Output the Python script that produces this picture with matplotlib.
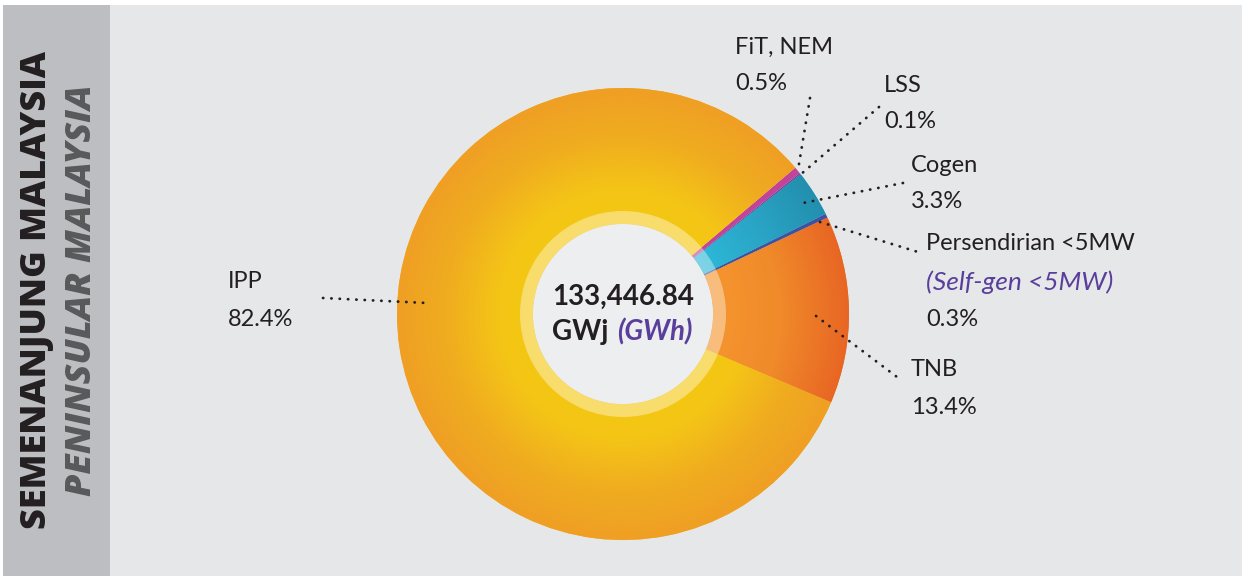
import numpy as np
import matplotlib
matplotlib.use("Agg")
import matplotlib.pyplot as plt
from matplotlib.colors import LinearSegmentedColormap
from matplotlib.patches import Rectangle, Circle, Wedge

# ---------------- data ----------------
categories = ["TNB", "Persendirian <5MW", "Cogen", "LSS", "FiT, NEM", "IPP"]
shares = [13.4, 0.3, 3.3, 0.1, 0.5, 82.4]
pct_labels = ["13.4%", "0.3%", "3.3%", "0.1%", "0.5%", "82.4%"]
total_value = "133,446.84"
unit_ms = "GWj"
unit_en = "(GWh)"
side_title_ms = "SEMENANJUNG MALAYSIA"
side_title_en = "PENINSULAR MALAYSIA"
selfgen_en = "(Self-gen <5MW)"

# ---------------- style ----------------
W, H = 1242, 576
FONT = "Lato"
TFONT = "Open Sans"
DARK = "#231F20"
PURPLE = "#5A3E9B"
BG = "#E6E7E8"
BAND = "#BCBEC1"

fig = plt.figure(figsize=(W / 100, H / 100), dpi=100, facecolor="white")
ax = fig.add_axes([0, 0, 1, 1])
ax.set_xlim(0, W)
ax.set_ylim(0, H)
ax.axis("off")

def Y(y):  # convert from top-down pixel coordinates
    return H - y

ax.add_patch(Rectangle((3, 0), W - 3, H - 5, facecolor=BG, edgecolor="none", zorder=0))
ax.add_patch(Rectangle((3, 0), 107, H - 5, facecolor=BAND, edgecolor="none", zorder=0.5))

# ---------------- donut ----------------
cx, cy = 623, Y(314)
R_out, R_in = 226, 90
seg_colors = ["#EE7A26", "#3F51A3", "#2AA3C4", "#6A3D96", "#C2449A", "#F2B31D"]
wedges, _ = ax.pie(shares, colors=seg_colors, startangle=-23, counterclock=True,
                   center=(cx, cy), radius=R_out, frame=True,
                   wedgeprops=dict(width=R_out - R_in, linewidth=0, antialiased=True))
for w in wedges:
    w.set_zorder(2)

def radial_fill(wedge, stops):
    n = 700
    xs = np.linspace(cx - R_out, cx + R_out, n)
    ys = np.linspace(cy - R_out, cy + R_out, n)
    X, Yg = np.meshgrid(xs, ys)
    r = np.hypot(X - cx, Yg - cy)
    t = np.clip((r - R_in) / (R_out - R_in), 0, 1)
    cmap = LinearSegmentedColormap.from_list("g", stops)
    im = ax.imshow(t, cmap=cmap, vmin=0, vmax=1, origin="lower",
                   extent=(cx - R_out, cx + R_out, cy - R_out, cy + R_out),
                   interpolation="bilinear", zorder=2.1)
    im.set_clip_path(wedge)

radial_fill(wedges[0], [(0, "#F6962F"), (0.5, "#F08A2A"), (1, "#E86624")])
radial_fill(wedges[2], [(0, "#2DBAD9"), (0.5, "#2AA5C6"), (1, "#238FAE")])
radial_fill(wedges[5], [(0, "#F5C813"), (0.25, "#F4C516"), (0.65, "#F0AC20"), (1, "#EF9F24")])

# light inner ring & centre
ax.add_patch(Wedge((cx, cy), R_in + 13, 0, 360, width=13, facecolor="white",
                   alpha=0.38, edgecolor="none", zorder=3))
ax.add_patch(Circle((cx, cy), R_in, facecolor="#ECEEF0", edgecolor="none", zorder=3.5))

ax.set_xlim(0, W)
ax.set_ylim(0, H)
ax.set_aspect("equal")
ax.axis("off")

# ---------------- centre text ----------------
CFS = 20
ax.text(cx, Y(297), total_value, ha="center", va="center", fontsize=CFS,
        fontweight="bold", color=DARK, family=FONT, zorder=5)
ax.text(552, Y(332), unit_ms, ha="left", va="center", fontsize=CFS,
        fontweight="bold", color=DARK, family=FONT, zorder=5)
ax.text(617, Y(332), unit_en, ha="left", va="center", fontsize=CFS,
        fontweight="bold", style="italic", color=PURPLE, family=FONT, zorder=5)

# ---------------- side titles ----------------
ax.text(37, Y(290), side_title_ms, rotation=90, ha="center", va="center",
        fontsize=26, fontweight="heavy", color=DARK, family=TFONT)
ax.text(82, Y(290), side_title_en, rotation=90, ha="center", va="center",
        fontsize=26, fontweight="heavy", style="italic", color="#58595B", family=TFONT)

# ---------------- labels ----------------
LFS = 17
def lab(x, y, s, color=DARK, style="normal", fs=LFS):
    ax.text(x, Y(y), s, ha="left", va="center", fontsize=fs, color=color,
            family=FONT, style=style, zorder=5)

lab(735, 47, categories[4]); lab(735, 84, pct_labels[4])
lab(884, 85, categories[3]); lab(884, 122, pct_labels[3])
lab(911, 165, categories[2]); lab(911, 202, pct_labels[2])
lab(926, 244, categories[1]); lab(926, 282, selfgen_en, color=PURPLE, style="italic", fs=19)
lab(926, 319, pct_labels[1])
lab(911, 370, categories[0]); lab(911, 407, pct_labels[0])
lab(228, 282, categories[5]); lab(228, 320, pct_labels[5])

# ---------------- leader lines ----------------
leaders = [((810, 98), (798, 170)),
           ((879, 107), (800, 175)),
           ((903, 183), (803, 203)),
           ((820, 222), (918, 252)),
           ((816, 316), (897, 377)),
           ((323, 298), (427, 303))]
for (x0, y0), (x1, y1) in leaders:
    ax.plot([x0, x1], [Y(y0), Y(y1)], color=DARK, lw=2.0,
            linestyle=(0, (0.1, 2.9)), dash_capstyle="round", zorder=6)

fig.savefig("out.png", dpi=100, facecolor="white")
